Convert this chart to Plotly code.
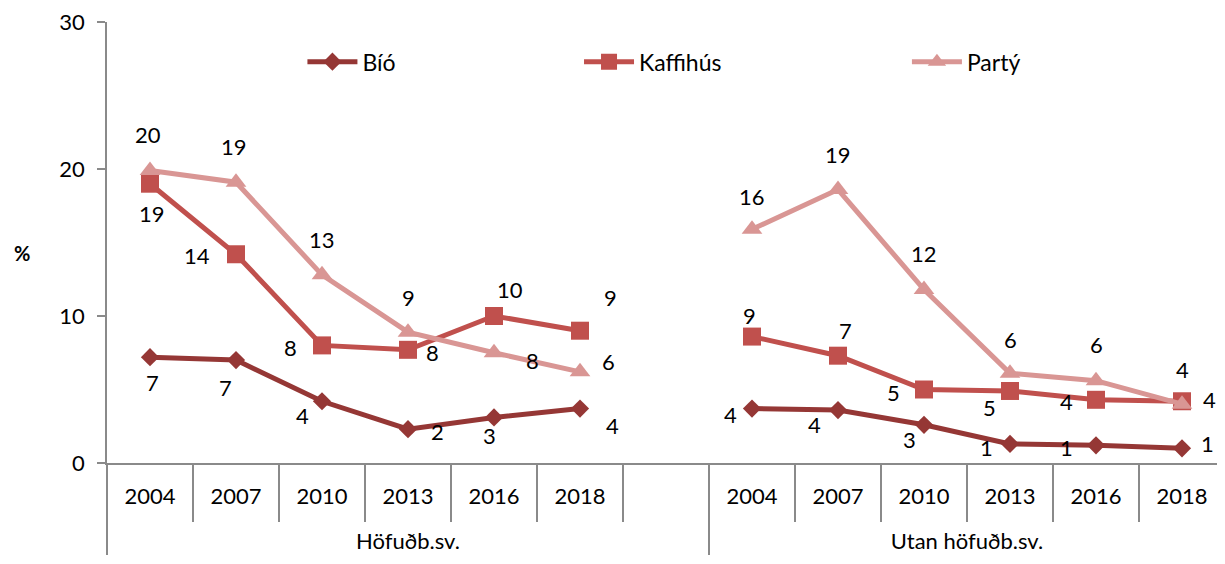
import plotly.graph_objects as go

# ---- data ----
groups = ["Höfuðb.sv.", "Utan höfuðb.sv."]
years = ["2004", "2007", "2010", "2013", "2016", "2018"]
bio_h = [7.2, 7.0, 4.2, 2.3, 3.1, 3.7]
bio_u = [3.7, 3.6, 2.6, 1.3, 1.2, 1.0]
kaffi_h = [19.0, 14.2, 8.0, 7.7, 10.0, 9.0]
kaffi_u = [8.6, 7.3, 5.0, 4.9, 4.3, 4.2]
party_h = [19.9, 19.1, 12.8, 8.9, 7.5, 6.2]
party_u = [15.9, 18.6, 11.8, 6.1, 5.6, 4.0]
series_names = ["Bíó", "Kaffihús", "Partý"]

# ---- styles ----
FONT = "Lato"
AX = "#8a8a8a"
colors = ["#953735", "#C0504D", "#D99694"]
symbols = ["diamond", "square", "triangle-up"]
msizes = [14, 18, 18]
# label offsets (px, right / down) per series, per point
offsets = {
    "Bíó": [(2, 25), (-11, 27), (-20, 14), (29, 2), (-5, 18), (32, 17),
            (-22, 6), (-24, 14), (-15, 15), (-24, 4), (-30, 2), (25, -5)],
    "Kaffihús": [(2, 30), (-39, 1), (-32, 2), (24, 3), (16, -27), (30, -33),
                 (-3, -21), (7, -25), (-31, 3), (-21, 17), (-30, 2), (27, -2)],
    "Partý": [(-2, -36), (-2, -36), (0, -35), (0, -35), (38, 8), (28, -10),
              (0, -33), (0, -35), (0, -36), (0, -34), (0, -36), (0, -35)],
}
legend_x = [0.1748, 0.4222, 0.7155]

gap = "\u00a0"
# year labels get an empty second line so the group row sits lower
inner_years = [y + "<br>\u00a0" for y in years]
x_outer = [groups[0]] * (len(years) + 1) + [groups[1]] * len(years)
x_inner = inner_years + [gap] + inner_years
n_cat = len(x_inner)

data = {
    "Bíó": (bio_h, bio_u),
    "Kaffihús": (kaffi_h, kaffi_u),
    "Partý": (party_h, party_u),
}

fig = go.Figure()
annotations = []
for k, name in enumerate(series_names):
    h, u = data[name]
    yv = list(h) + [None] + list(u)
    legend_id = "legend" if k == 0 else f"legend{k+1}"
    fig.add_trace(go.Scatter(
        x=[x_outer, x_inner], y=yv, name=name, mode="lines+markers",
        line=dict(color=colors[k], width=5),
        marker=dict(symbol=symbols[k], size=msizes[k], color=colors[k]),
        connectgaps=False, legend=legend_id, hoverinfo="skip",
    ))
    idx = [i for i, v in enumerate(yv) if v is not None]
    for j, i in enumerate(idx):
        dx, dy = offsets[name][j]
        annotations.append(dict(
            x=i, y=yv[i], xref="x2", yref="y", text=str(int(yv[i] + 0.5)),
            showarrow=False, xshift=dx, yshift=-dy,
            font=dict(family=FONT, size=22, color="black"),
        ))

# invisible helper trace on overlay axis for label placement
fig.add_trace(go.Scatter(x=[0], y=[None], xaxis="x2", showlegend=False, hoverinfo="skip"))

annotations.append(dict(
    x=-0.076, y=0.476, xref="paper", yref="paper", text="<b>%</b>", showarrow=False,
    font=dict(family=FONT, size=20, color="black"), xanchor="center", yanchor="middle",
))

leg_common = dict(orientation="h", yanchor="middle", xanchor="left", itemwidth=50,
                  bgcolor="rgba(0,0,0,0)", font=dict(family=FONT, size=23, color="black"))
fig.update_layout(
    width=1217, height=556,
    margin=dict(l=99, r=0, t=14, b=101),
    paper_bgcolor="white", plot_bgcolor="white",
    font=dict(family=FONT, size=22, color="black"),
    showlegend=True,
    legend=dict(x=legend_x[0], y=0.91, **leg_common),
    legend2=dict(x=legend_x[1], y=0.91, **leg_common),
    legend3=dict(x=legend_x[2], y=0.91, **leg_common),
    xaxis=dict(
        type="multicategory", range=[-0.5, n_cat - 0.5], automargin=False,
        showline=True, linecolor=AX, linewidth=1.5,
        ticks="outside", tickson="boundaries", ticklen=57, tickcolor=AX, tickwidth=1.5,
        showdividers=True, dividercolor=AX, dividerwidth=1.5,
        showgrid=False, ticklabelstandoff=13,
        tickfont=dict(family=FONT, size=22, color="black"),
    ),
    xaxis2=dict(overlaying="x", range=[-0.5, n_cat - 0.5], visible=False),
    yaxis=dict(
        range=[0, 30], tick0=0, dtick=10, automargin=False, ticklabeloverflow="allow",
        showline=True, linecolor=AX, linewidth=1.5,
        ticks="outside", ticklen=8, tickcolor=AX, tickwidth=1.5, showgrid=False, zeroline=False,
        ticklabelstandoff=8,
        tickfont=dict(family=FONT, size=22, color="black"),
    ),
    annotations=annotations,
)

fig.write_html("out.html")
